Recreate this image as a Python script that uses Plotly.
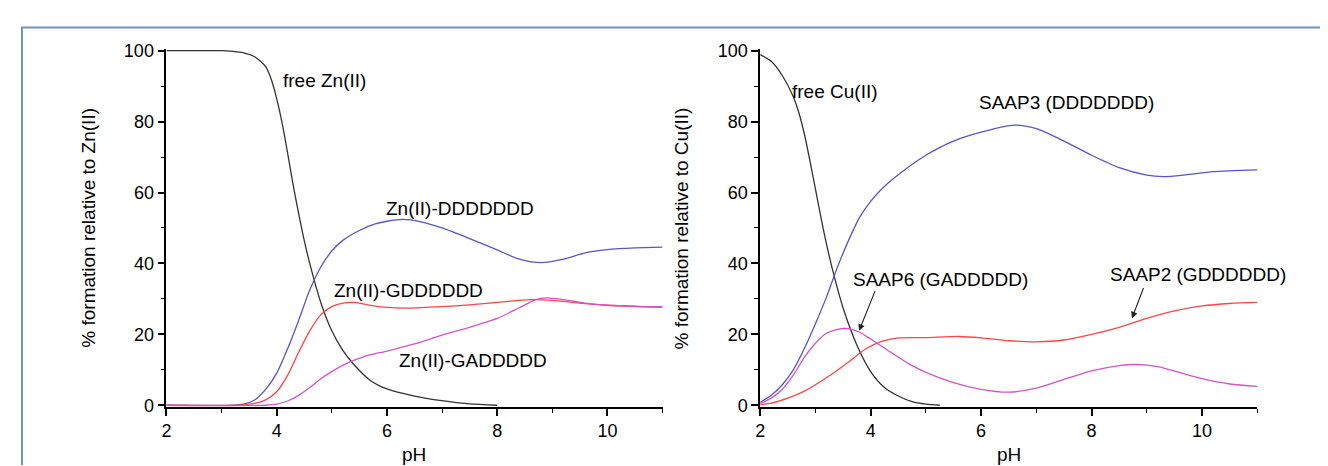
import plotly.graph_objects as go

# ---------------- data: Zn(II) panel ----------------
zn_free_ph = [2, 3, 3.2, 3.4, 3.6, 3.8, 3.9, 4.0, 4.1, 4.2, 4.3, 4.4, 4.5, 4.6, 4.8, 5.0, 5.2, 5.4, 5.7, 6.0, 6.5, 7.0, 7.5, 8.0]
zn_free_val = [100, 100, 99.8, 99.4, 98.3, 95.5, 92, 86.5, 79.5, 71, 62, 54, 46.5, 40, 29, 21, 15.5, 11.5, 7, 4.6, 2.6, 1.3, 0.4, 0]

zn_d7_ph = [2, 3.2, 3.4, 3.6, 3.8, 4.0, 4.2, 4.4, 4.6, 4.8, 5.0, 5.2, 5.5, 5.8, 6.0, 6.3, 6.6, 7.0, 7.5, 8.0, 8.4, 8.8, 9.2, 9.6, 10.0, 10.5, 11.0]
zn_d7_val = [0, 0, 0.3, 1.5, 4.5, 9, 16, 24, 32.5, 39, 43.5, 46.5, 49.3, 51.2, 51.9, 52.4, 51.8, 50, 47, 43.8, 41.2, 40.2, 41.2, 43, 43.9, 44.4, 44.6]

zn_gd6_ph = [2, 3.3, 3.6, 3.8, 4.0, 4.2, 4.4, 4.6, 4.8, 5.0, 5.2, 5.4, 5.7, 6.0, 6.4, 7.0, 7.5, 8.0, 8.6, 9.0, 9.5, 10.0, 11.0]
zn_gd6_val = [0, 0, 0.5, 1.5, 3.8, 8.5, 15, 21, 25.5, 27.8, 28.8, 29, 28.2, 27.6, 27.4, 27.8, 28.3, 29, 29.8, 29.6, 28.8, 28.2, 27.6]

zn_gad5_ph = [2, 3.8, 4.0, 4.2, 4.4, 4.6, 4.8, 5.0, 5.3, 5.6, 6.0, 6.5, 7.0, 7.5, 8.0, 8.4, 8.7, 8.9, 9.2, 9.6, 10.0, 10.5, 11.0]
zn_gad5_val = [0, 0, 0.3, 1.2, 2.8, 5, 7.5, 9.5, 12, 13.8, 15.3, 17.3, 19.8, 22, 24.5, 27.5, 29.8, 30.3, 29.8, 28.8, 28.2, 27.9, 27.8]

# ---------------- data: Cu(II) panel ----------------
cu_free_ph = [2, 2.2, 2.4, 2.6, 2.7, 2.8, 2.9, 3.0, 3.1, 3.2, 3.34, 3.5, 3.75, 4.0, 4.25, 4.5, 4.75, 5.0, 5.25]
cu_free_val = [98.9, 97, 93, 87, 82.5, 76.5, 69, 61, 53, 45.5, 36.4, 27.5, 17, 9.5, 5, 2.6, 1, 0.3, 0]

cu_saap3_ph = [2, 2.2, 2.4, 2.6, 2.8, 3.0, 3.2, 3.4, 3.6, 3.8, 4.0, 4.2, 4.5, 5.0, 5.5, 6.0, 6.6, 7.0, 7.5, 8.0, 8.5, 9.0, 9.3, 9.7, 10.2, 11.0]
cu_saap3_val = [0.8, 2.8, 5.8, 10, 16, 23, 30.5, 39, 46.5, 53, 57.5, 61, 65, 70.5, 74.5, 77, 79, 78, 74.5, 70.5, 67, 64.9, 64.5, 65, 65.9, 66.4]

cu_saap6_ph = [2, 2.2, 2.4, 2.6, 2.8, 3.0, 3.2, 3.4, 3.6, 3.8, 4.0, 4.3, 4.7, 5.0, 5.5, 6.0, 6.5, 7.0, 7.5, 8.0, 8.5, 8.8, 9.2, 9.6, 10.0, 10.5, 11.0]
cu_saap6_val = [0.5, 2, 4.5, 8.5, 13.5, 17.5, 20.3, 21.4, 21.6, 20.6, 18.7, 15.6, 11.6, 9.3, 6.4, 4.5, 3.7, 4.8, 7.3, 9.7, 11.2, 11.5, 10.9, 9.2, 7.5, 6, 5.3]

cu_saap2_ph = [2, 2.2, 2.5, 2.8, 3.0, 3.3, 3.6, 3.9, 4.2, 4.5, 5.0, 5.6, 6.0, 6.5, 7.0, 7.5, 8.0, 8.5, 9.0, 9.5, 10.0, 10.5, 11.0]
cu_saap2_val = [0.2, 0.6, 2, 4, 5.8, 8.8, 12.2, 15.8, 18, 19, 19.1, 19.4, 19.0, 18.2, 17.9, 18.4, 20, 22, 24.5, 26.6, 28, 28.7, 29]

x_ticks = [2, 4, 6, 8, 10]
y_ticks = [0, 20, 40, 60, 80, 100]

# ---------------- styling ----------------
W, H = 1328, 466
FONT = "Liberation Sans, Arial, Helvetica, sans-serif"
C_BLACK = "#333333"
C_BLUE = "#5555cc"
C_RED = "#ff4444"
C_MAG = "#d552c8"
LW = 1.3

def px(xp):
    return xp / W

def py(yp):
    return 1 - yp / H

fig = go.Figure()

def add(x, y, color, xa, ya):
    fig.add_trace(go.Scatter(x=x, y=y, mode="lines", xaxis=xa, yaxis=ya,
                             line=dict(color=color, width=LW, shape="spline", smoothing=0.7),
                             showlegend=False, hoverinfo="skip"))

add(zn_free_ph, zn_free_val, C_BLACK, "x", "y")
add(zn_d7_ph, zn_d7_val, C_BLUE, "x", "y")
add(zn_gd6_ph, zn_gd6_val, C_RED, "x", "y")
add(zn_gad5_ph, zn_gad5_val, C_MAG, "x", "y")

add(cu_free_ph, cu_free_val, C_BLACK, "x2", "y2")
add(cu_saap3_ph, cu_saap3_val, C_BLUE, "x2", "y2")
add(cu_saap2_ph, cu_saap2_val, C_RED, "x2", "y2")
add(cu_saap6_ph, cu_saap6_val, C_MAG, "x2", "y2")

# pixel geometry of the panels
Y0, Y100 = 404, 36
pad = 0.4
unit = (Y0 - Y100) / 100.0
ydom = [py(Y0 + pad * unit), py(Y100 - pad * unit)]

axis_common = dict(
    showgrid=False, zeroline=False, showline=True, linecolor="black", linewidth=1.8,
    ticks="outside", ticklen=7, tickwidth=1.5, tickcolor="black",
    tickfont=dict(family=FONT, size=18, color="black"),
    minor=dict(ticks="outside", ticklen=4, tickwidth=1.2, tickcolor="black"),
)

fig.update_layout(
    width=W, height=H, margin=dict(l=0, r=0, t=0, b=0),
    paper_bgcolor="white", plot_bgcolor="white",
    font=dict(family=FONT, color="black"),
    xaxis=dict(domain=[px(154), px(652)], range=[2, 11], tickvals=x_ticks,
               minor_dtick=1, anchor="y", **axis_common),
    yaxis=dict(domain=ydom, range=[-pad, 100 + pad], tickvals=y_ticks,
               minor_dtick=10, anchor="x", **axis_common),
    xaxis2=dict(domain=[px(750), px(1249)], range=[2, 11], tickvals=x_ticks,
                minor_dtick=1, anchor="y2", **axis_common),
    yaxis2=dict(domain=ydom, range=[-pad, 100 + pad], tickvals=y_ticks,
                minor_dtick=10, anchor="x2", **axis_common),
)

ann_font = dict(family=FONT, size=19, color="black")
labels = [
    ("free Zn(II)", 4.86, 91.6, "x", "y"),
    ("Zn(II)-DDDDDDD", 7.33, 55.4, "x", "y"),
    ("Zn(II)-GDDDDDD", 6.39, 32.3, "x", "y"),
    ("Zn(II)-GADDDDD", 7.57, 12.5, "x", "y"),
    ("free Cu(II)", 3.35, 88.6, "x2", "y2"),
    ("SAAP3 (DDDDDDD)", 7.54, 85.3, "x2", "y2"),
    ("SAAP6 (GADDDDD)", 5.27, 35.4, "x2", "y2"),
    ("SAAP2 (GDDDDDD)", 9.92, 36.8, "x2", "y2"),
]
for t, x, y, xr, yr in labels:
    fig.add_annotation(text=t, x=x, y=y, xref=xr, yref=yr, showarrow=False,
                       font=ann_font, xanchor="center", yanchor="middle")

# arrows (head x, head y, tail x, tail y)
arrows = [(3.79, 21.0, 4.09, 32.6), (8.73, 24.5, 8.95, 33.5)]
for hx, hy, tx, ty in arrows:
    fig.add_annotation(text="", x=hx, y=hy, ax=tx, ay=ty, xref="x2", yref="y2",
                       axref="x2", ayref="y2", showarrow=True, arrowhead=2,
                       arrowsize=1.2, arrowwidth=1.1, arrowcolor="#222")

# axis titles
title_font = dict(family=FONT, size=19, color="black")
for text, x, y, ang in [
    ("% formation relative to Zn(II)", 76, 220, -90),
    ("% formation relative to Cu(II)", 672, 220, -90),
    ("pH", 403, 455, 0),
    ("pH", 1000, 455, 0),
]:
    fig.add_annotation(text=text, x=px(x), y=py(y), xref="paper", yref="paper",
                       showarrow=False, textangle=ang, font=title_font,
                       xanchor="center", yanchor="middle")

# outer frame (open at right and bottom as in the cropped figure)
fig.add_shape(type="path", xref="paper", yref="paper",
              path=f"M {px(9)} 0 L {px(9)} {py(12)} L 1.01 {py(12)}",
              line=dict(color="#6f92c2", width=2))

fig.write_html("out.html")
